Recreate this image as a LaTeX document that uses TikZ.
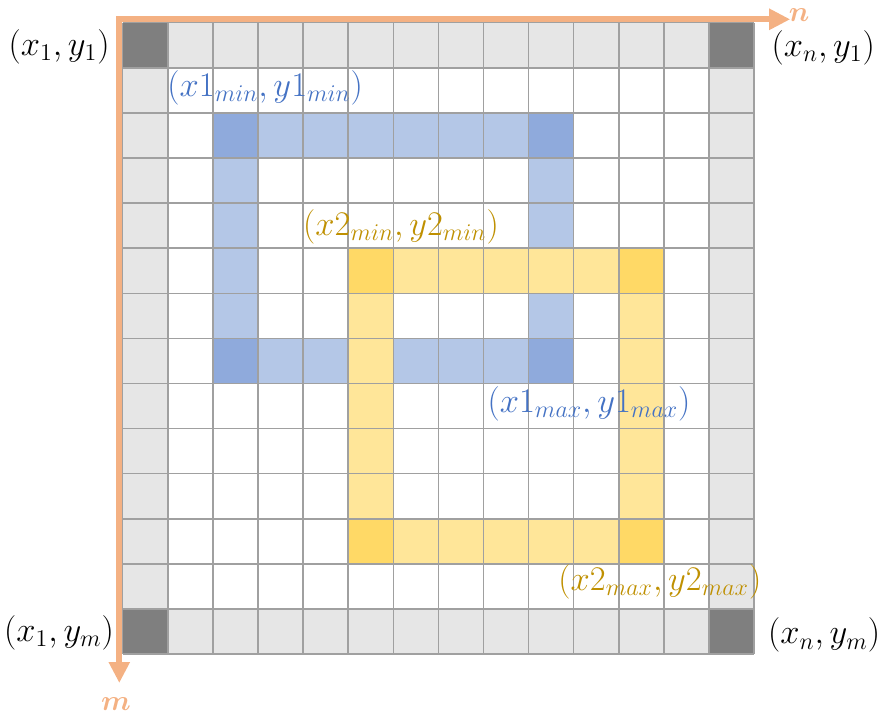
\documentclass[tikz,border=0pt]{standalone}
\usepackage{amsmath,amssymb}
\usepackage{bm}
\usepackage{tikz}
\usepackage{xcolor}
\usetikzlibrary{arrows.meta}

\definecolor{axisorange}{HTML}{F4B183}
\definecolor{bordergray}{HTML}{E6E6E6}
\definecolor{cornergray}{HTML}{7F7F7F}
\definecolor{linegray}{HTML}{A0A0A0}
\definecolor{boxblue}{HTML}{B4C7E7}
\definecolor{boxbluedark}{HTML}{8FAADC}
\definecolor{boxyellow}{HTML}{FFE699}
\definecolor{boxyellowdark}{HTML}{FFD966}
\definecolor{textblue}{HTML}{4472C4}
\definecolor{textgold}{HTML}{BF9000}

\tikzset{
    gridline/.style={draw=linegray, line width=0.75pt},
    axis/.style={draw=axisorange, line width=3pt, {Triangle[length=10.5pt, width=10pt]}-{Triangle[length=10.5pt, width=10pt]}},
    axislabel/.style={text=axisorange, font=\fontsize{15}{18}\selectfont, inner sep=0pt},
    cornerlabel/.style={text=black, inner sep=0pt},
    bluelabel/.style={text=textblue, inner sep=0pt},
    goldlabel/.style={text=textgold, inner sep=0pt}
}

\begin{document}
\begin{tikzpicture}[x=22.55pt, y=-22.55pt, font=\fontsize{17}{20}\selectfont]
    \useasboundingbox (-2.72,-0.503) rectangle (16.79,15.33);

    % border ring and corners
    \fill[bordergray] (0,0) rectangle (14,14);
    \fill[white] (1,1) rectangle (13,13);
    \foreach \c/\r in {0/0, 13/0, 0/13, 13/13}
        \fill[cornergray] (\c,\r) rectangle ++(1,1);

    % first box
    \fill[boxblue] (2,2) rectangle (10,3);
    \fill[boxblue] (2,7) rectangle (10,8);
    \fill[boxblue] (2,3) rectangle (3,7);
    \fill[boxblue] (9,3) rectangle (10,7);
    \foreach \c/\r in {2/2, 9/2, 2/7, 9/7}
        \fill[boxbluedark] (\c,\r) rectangle ++(1,1);

    % second box
    \fill[boxyellow] (5,5) rectangle (12,6);
    \fill[boxyellow] (5,11) rectangle (12,12);
    \fill[boxyellow] (5,6) rectangle (6,11);
    \fill[boxyellow] (11,6) rectangle (12,11);
    \foreach \c/\r in {5/5, 11/5, 5/11, 11/11}
        \fill[boxyellowdark] (\c,\r) rectangle ++(1,1);

    % cell lines
    \foreach \i in {0,...,14} {
        \draw[gridline] (\i,0) -- (\i,14);
        \draw[gridline] (0,\i) -- (14,\i);
    }

    % axes
    \coordinate (origin) at (-0.075,-0.075);
    \coordinate (nend) at (14.8,-0.075);
    \coordinate (mend) at (-0.075,14.64);
    \draw[axis] (nend) -- (origin) -- (mend);
    \node[axislabel] (nlabel) at (15.0,-0.17) {$\bm{n}$};
    \node[axislabel] (mlabel) at (-0.15,15.1) {$\bm{m}$};

    % corner labels
    \node[cornerlabel] (topleft) at (-1.41,0.54) {$(x_1, y_1)$};
    \node[cornerlabel] (topright) at (15.53,0.56) {$(x_n, y_1)$};
    \node[cornerlabel] (bottomleft) at (-1.41,13.53) {$(x_1, y_m)$};
    \node[cornerlabel] (bottomright) at (15.55,13.58) {$(x_n, y_m)$};

    % box labels
    \node[bluelabel] (bluemin) at (3.16,1.45) {$(x1_{min}, y1_{min})$};
    \node[goldlabel] (goldmin) at (6.17,4.53) {$(x2_{min}, y2_{min})$};
    \node[bluelabel] (bluemax) at (10.34,8.45) {$(x1_{max}, y1_{max})$};
    \node[goldlabel] (goldmax) at (11.91,12.40) {$(x2_{max}, y2_{max})$};
\end{tikzpicture}
\end{document}
